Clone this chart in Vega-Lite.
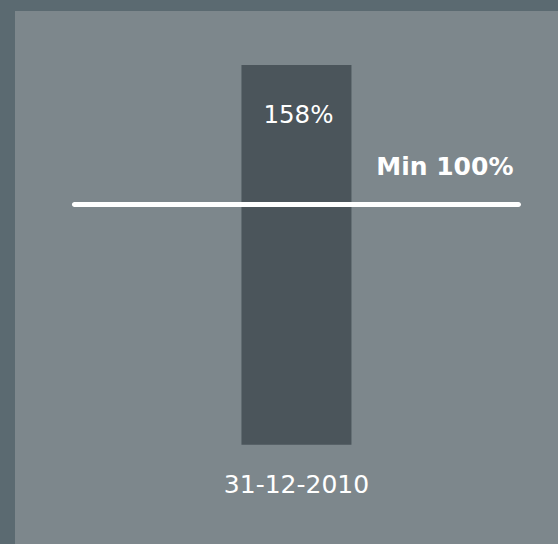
{
  "$schema": "https://vega.github.io/schema/vega-lite/v6.json",
  "width": 558,
  "height": 544,
  "autosize": {"type": "fit", "contains": "padding"},
  "padding": {"left": 15, "top": 11, "right": 0, "bottom": 0},
  "background": "#5b6a71",
  "config": {
    "view": {"fill": "#7d878c", "stroke": null},
    "font": "DejaVu Sans"
  },
  "data": {"values": [{"date": "31-12-2010", "value": 158, "label": "158%", "min": 100, "minLabel": "Min 100%"}]},
  "encoding": {
    "x": {
      "field": "date",
      "type": "nominal",
      "scale": {"paddingInner": 0.4919, "paddingOuter": 1, "align": 0.523},
      "axis": {
        "title": null,
        "orient": "bottom",
        "offset": -52,
        "ticks": false,
        "domain": false,
        "labelPadding": 0,
        "labelBaseline": "alphabetic",
        "labelAngle": 0,
        "labelFontSize": 25,
        "labelColor": "#ffffff",
        "labelFont": "DejaVu Sans"
      }
    }
  },
  "layer": [
    {
      "mark": {"type": "bar", "color": "#4b555b"},
      "encoding": {
        "y": {
          "field": "value",
          "type": "quantitative",
          "scale": {"domain": [-41.3, 180.5], "nice": false, "zero": false},
          "axis": null
        }
      }
    },
    {
      "mark": {"type": "text", "color": "#ffffff", "fontSize": 24.5, "baseline": "alphabetic", "dx": 2, "dy": 57.7},
      "encoding": {
        "y": {"field": "value", "type": "quantitative"},
        "text": {"field": "label", "type": "nominal"}
      }
    },
    {
      "mark": {"type": "tick", "color": "#ffffff", "size": 449, "thickness": 5, "cornerRadius": 2.5, "opacity": 1},
      "encoding": {
        "y": {"field": "min", "type": "quantitative"}
      }
    },
    {
      "mark": {"type": "text", "color": "#ffffff", "fontSize": 25, "fontWeight": "bold", "align": "right", "baseline": "alphabetic", "dx": 217, "dy": -29.3},
      "encoding": {
        "y": {"field": "min", "type": "quantitative"},
        "text": {"field": "minLabel", "type": "nominal"}
      }
    }
  ]
}
